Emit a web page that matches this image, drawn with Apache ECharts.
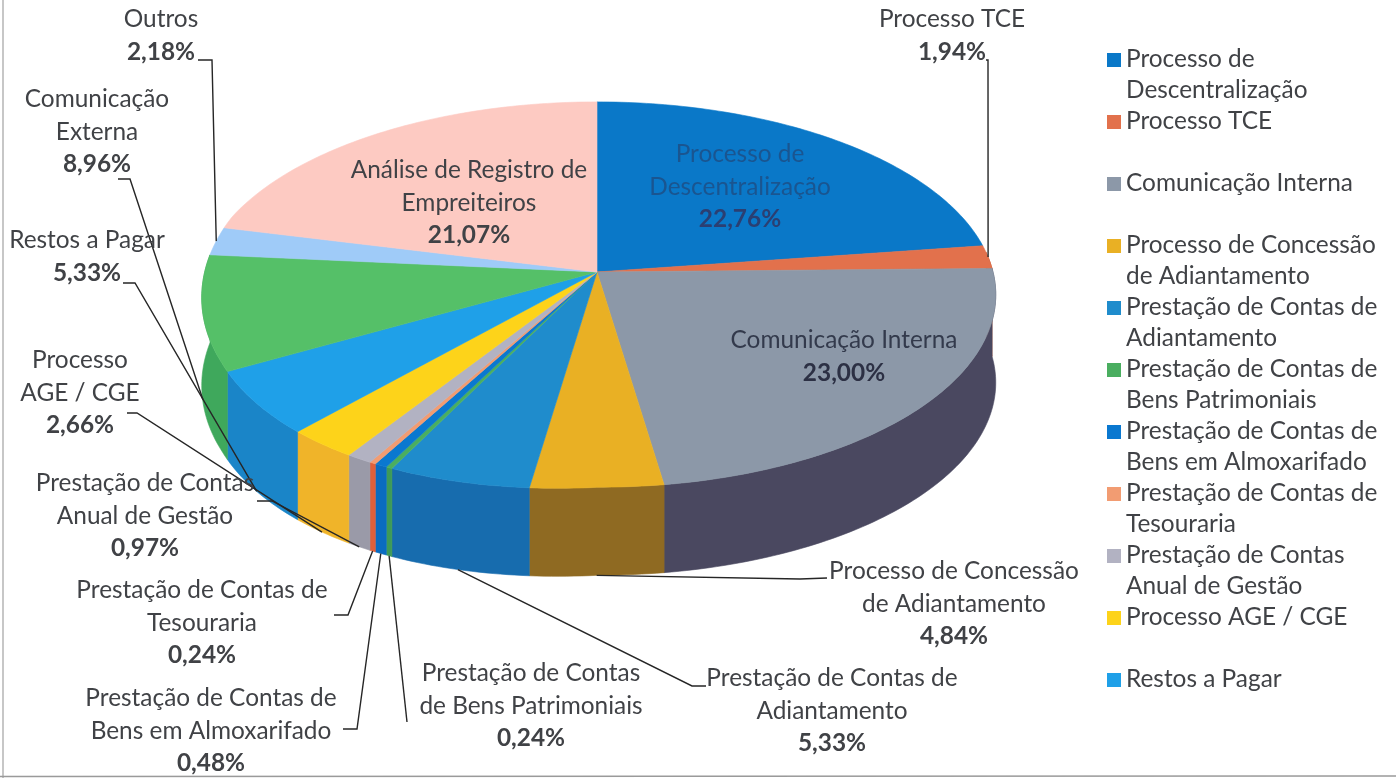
<!DOCTYPE html>
<html><head><meta charset="utf-8">
<style>html,body{margin:0;padding:0;background:#fff}#c{width:1396px;height:778px}</style>
<script src="https://cdn.jsdelivr.net/npm/echarts@6/dist/echarts.min.js"></script>
</head><body><div id="c"></div>
<script>
const categories = ["Processo de Descentralização","Processo TCE","Comunicação Interna","Processo de Concessão de Adiantamento","Prestação de Contas de Adiantamento","Prestação de Contas de Bens Patrimoniais","Prestação de Contas de Bens em Almoxarifado","Prestação de Contas de Tesouraria","Prestação de Contas Anual de Gestão","Processo AGE / CGE","Restos a Pagar","Comunicação Externa","Outros","Análise de Registro de Empreiteiros"];
const values = [22.76,1.94,23.00,4.84,5.33,0.24,0.48,0.24,0.97,2.66,5.33,8.96,2.18,21.07];
const topColors = ["#0a78c8","#e2714c","#8c98a8","#e9b024","#1f8ccc","#4aae60","#0a78d0","#f29c72","#b2b2c2","#fdd31a","#1fa0e8","#55c068","#9fcbf8","#fdcac2"];
const wallColors = ["#0a5f9e","#b0502f","#4a4860","#8f6a22","#176cae","#3e9a58","#0a6cc0","#e0603a","#9a9aa8","#f0b429","#1a85c8","#3fa85c","#7fa8d0","#d8a8a0"];
const legendCount = 11;
const legendLines = {
 0:"Processo de\nDescentralização",1:"Processo TCE\n\u00a0",2:"Comunicação Interna\n\u00a0",3:"Processo de Concessão\nde Adiantamento",4:"Prestação de Contas de\nAdiantamento",5:"Prestação de Contas de\nBens Patrimoniais",6:"Prestação de Contas de\nBens em Almoxarifado",7:"Prestação de Contas de\nTesouraria",8:"Prestação de Contas\nAnual de Gestão",9:"Processo AGE / CGE\n\u00a0",10:"Restos a Pagar\n\u00a0"};
const labelLines = [
 ["Processo de","Descentralização"],["Processo TCE"],["Comunicação Interna"],["Processo de Concessão","de Adiantamento"],["Prestação de Contas de","Adiantamento"],["Prestação de Contas","de Bens Patrimoniais"],["Prestação de Contas de","Bens em Almoxarifado"],["Prestação de Contas de","Tesouraria"],["Prestação de Contas","Anual de Gestão"],["Processo","AGE / CGE"],["Restos a Pagar"],["Comunicação","Externa"],["Outros"],["Análise de Registro de","Empreiteiros"]];
// label layout: centre x, centre y of first line, text colours
const labelLayout = [
 {x:740,y:154,c:"#1a5590",b:"#2b3f72"},{x:952,y:19},{x:844,y:340,c:"#333a4c",b:"#2c3044"},{x:954,y:571},{x:832,y:678},{x:531,y:673},{x:211,y:698},{x:202,y:590},{x:145,y:483},{x:80,y:360},{x:87,y:240},{x:97,y:99},{x:161,y:19},{x:469,y:170}];
// leader layout: points from the label to the elbow; the last point is taken from the slice, at the given wall depth
const leaderLayout = [null,{p:[[986,60],[988,60]],d:0},null,{p:[[827,578],[800,579]],d:88},{p:[[706,686],[692,686]],d:88},{p:[[407,722]],d:88},{p:[[343,729],[357,729]],d:88},{p:[[334,615],[348,615]],d:88},{p:[[257,501],[272,501]],d:88},{p:[[127,413],[137,413]],d:88},{p:[[123,283],[135,283]],d:88},{p:[[118,179],[130,179]],d:86},{p:[[198,60],[212,60]],d:0},null];

const FONT = 'Lato';
const TXT = '#404246';
const FS = 24.4;
const CX=597, CY=272, A=396, B=190, K=0.117, DEPTH=88, SKEW=18, XSKEW=6;
const total = values.reduce((a,b)=>a+b,0);
const starts = values.reduce((acc,v,i)=>{acc.push(i?acc[i-1]+values[i-1]:0);return acc;},[]);

function project(theta, depth){
  const u=Math.sin(theta), v=-Math.cos(theta), den=1-K*v;
  const sk=Math.max(0,-u)*Math.max(0,v+0.3)*SKEW;
  const xs=XSKEW*((1-u)/2)*Math.max(0,Math.min(1,(v+0.3)/0.7));
  return [CX+A*u/den+xs, CY+B*v/den+sk+(depth||0)];
}
function renderSlice(i){
  return function(params, api){
    const start=api.value(0)/total*2*Math.PI, val=api.value(1)/total*2*Math.PI;
    const n=Math.max(2,Math.ceil(val/(Math.PI/180)));
    const rim=[], thetas=[];
    for(let k=0;k<=n;k++){const t=start+val*k/n;thetas.push(t);rim.push(project(t,0));}
    const kids=[];
    kids.push({type:'polygon',z2:2,shape:{points:[[CX,CY]].concat(rim)},style:{fill:topColors[i],stroke:topColors[i],lineWidth:0.6}});
    const front=thetas.filter(t=>-Math.cos(t)>-0.12);
    if(front.length>1){
      const a=front.map(t=>project(t,0)), b=front.map(t=>project(t,DEPTH)).reverse();
      kids.push({type:'polygon',z2:1,shape:{points:a.concat(b)},style:{fill:wallColors[i],stroke:wallColors[i],lineWidth:0.6}});
    }
    const L=labelLayout[i], lines=labelLines[i];
    const pct=values[i].toFixed(2).replace('.',',')+'%';
    const rows=lines.map(s=>'{n|'+s+'}').concat('{b|'+pct+'}').join('\n');
    const LH=32.7;
    kids.push({type:'text',z2:6,style:{x:L.x,y:L.y-LH/2,text:rows,align:'center',verticalAlign:'top',
      rich:{n:{fontFamily:FONT,fontSize:FS,lineHeight:LH,fill:L.c||TXT,align:'center'},
            b:{fontFamily:FONT,fontSize:FS,fontWeight:'bold',lineHeight:LH,fill:L.b||TXT,align:'center'}}}});
    const ld=leaderLayout[i];
    if(ld){
      const end=project(start+val/2,ld.d);
      kids.push({type:'polyline',z2:5,shape:{points:ld.p.concat([end])},style:{fill:null,stroke:'#262626',lineWidth:1.4}});
    }
    return {type:'group',children:kids};
  };
}
const series = categories.map((name,i)=>({
  type:'custom',name:name,coordinateSystem:'none',silent:true,animation:false,
  itemStyle:{color:topColors[i]},
  data:[[starts[i],values[i]]],
  encode:{},
  renderItem:renderSlice(i)
}));
const chart=echarts.init(document.getElementById('c'),null,{renderer:'canvas'});
chart.setOption({
  animation:false,backgroundColor:'#ffffff',
  legend:{orient:'vertical',left:1102,top:39,itemGap:0,itemWidth:14,itemHeight:62,selectedMode:false,
    icon:'path://M0,0L0.01,0L0,0.01Z M0,9H14V23H0Z M14,62L13.99,62L14,61.99Z',
    data:categories.slice(0,legendCount),
    formatter:function(n){return legendLines[categories.indexOf(n)];},
    textStyle:{fontFamily:FONT,fontSize:FS,lineHeight:31,color:TXT}},
  graphic:[
   {type:'line',shape:{x1:3,y1:0,x2:3,y2:778},style:{stroke:'#b5b5b5',lineWidth:1.5},z:-1},
   {type:'line',shape:{x1:0,y1:776.5,x2:1396,y2:776},style:{stroke:'#9a9a9a',lineWidth:1.5},z:-1}
  ],
  series:series
});
</script></body></html>
